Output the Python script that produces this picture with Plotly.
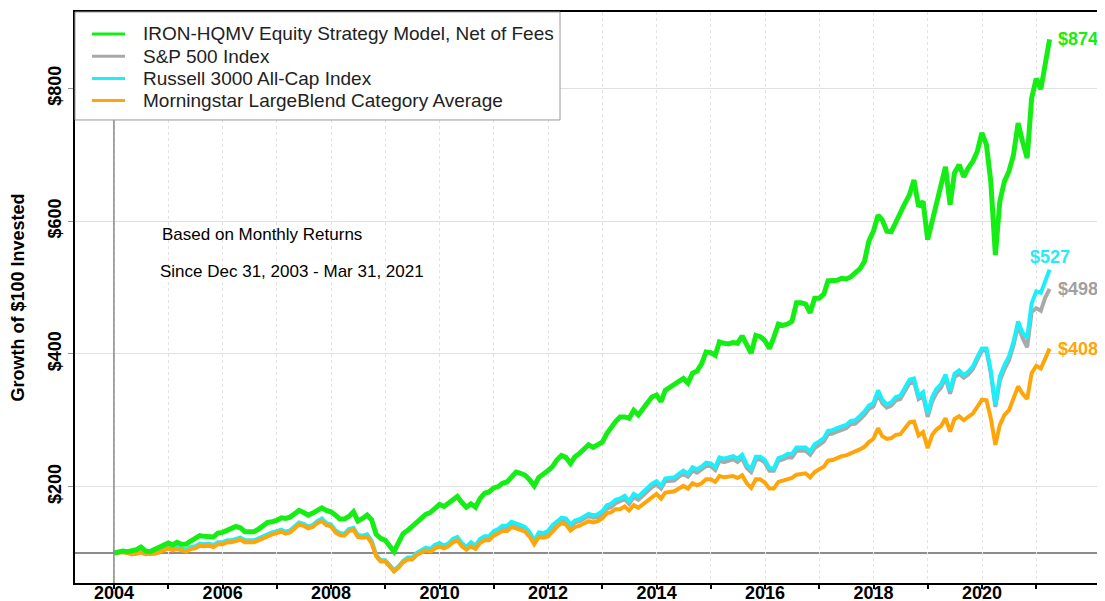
import pandas as pd
import plotly.graph_objects as go

# month-end values, Dec 2003 .. Mar 2021 (growth of $100)
iron = [100,
        102, 103, 102, 104, 105, 109, 103, 102, 105, 107, 112, 115,   # 2004
        112, 116, 113, 113, 118, 122, 126, 125, 125, 124, 130, 131,   # 2005
        134, 136, 140, 138, 132, 132, 132, 136, 141, 146, 147, 149,   # 2006
        153, 152, 154, 159, 164, 161, 157, 160, 164, 168, 164, 162,   # 2007
        157, 151, 151, 155, 162, 148, 152, 157, 150, 128, 122, 119,   # 2008
        110, 102, 116, 129, 134, 140, 147, 153, 158, 161, 168, 173,   # 2009
        170, 175, 181, 185, 176, 169, 174, 169, 182, 190, 192, 198,   # 2010
        200, 205, 207, 214, 222, 220, 217, 210, 201, 214, 218, 224,   # 2011
        230, 240, 247, 244, 235, 245, 250, 256, 263, 259, 263, 267,   # 2012
        280, 290, 298, 305, 305, 303, 315, 308, 318, 327, 335, 338,   # 2013
        328, 345, 350, 354, 358, 363, 356, 371, 374, 385, 403, 402,   # 2014
        398, 418, 416, 415, 417, 416, 427, 414, 401, 428, 426, 420,   # 2015
        408, 425, 445, 443, 445, 449, 477, 477, 475, 462, 484, 484,   # 2016
        490, 510, 511, 511, 514, 513, 516, 521, 528, 539, 570, 585,   # 2017
        609, 602, 585, 584, 600, 612, 627, 640, 662, 622, 630, 572,   # 2018
        600, 625, 652, 682, 625, 673, 685, 667, 680, 690, 705, 733,   # 2019
        715, 660, 549, 630, 660, 675, 700, 748, 720, 695, 785, 815,   # 2020
        799, 835, 874]                                                # 2021

sp500 = [100,
         101, 102, 100, 98, 99, 101, 98, 98, 99, 101, 105, 109,
         106, 108, 106, 104, 108, 109, 113, 112, 113, 111, 115, 115,
         118, 118, 120, 122, 118, 118, 118, 121, 124, 128, 130, 132,
         134, 131, 133, 139, 145, 143, 139, 141, 146, 150, 144, 141,
         133, 129, 128, 134, 136, 125, 124, 126, 116, 96, 88, 88,
         81, 73, 79, 87, 91, 91, 98, 102, 106, 104, 110, 113,
         109, 112, 119, 122, 112, 106, 113, 108, 118, 122, 123, 130,
         133, 138, 138, 144, 142, 139, 136, 129, 116, 128, 128, 130,
         139, 145, 150, 149, 140, 146, 148, 152, 156, 153, 154, 158,
         167, 169, 175, 178, 181, 174, 184, 180, 186, 194, 199, 203,
         197, 208, 208, 209, 215, 219, 215, 224, 221, 226, 231, 231,
         225, 239, 237, 239, 241, 237, 243, 228, 222, 240, 241, 236,
         224, 224, 239, 241, 244, 244, 254, 254, 254, 248, 258, 263,
         268, 279, 280, 283, 286, 288, 294, 295, 301, 308, 317, 321,
         340, 326, 319, 322, 330, 332, 344, 356, 358, 332, 337, 305,
         329, 341, 349, 364, 340, 365, 370, 364, 369, 377, 391, 405,
         405, 371, 320, 360, 377, 390, 413, 443, 424, 410, 463, 469,
         465, 484, 498]

russell = [100,
           101, 102, 101, 99, 100, 102, 99, 99, 100, 102, 106, 110,
           107, 109, 107, 105, 109, 110, 114, 113, 114, 112, 116, 116,
           119, 119, 121, 123, 119, 119, 119, 122, 125, 129, 131, 133,
           135, 132, 134, 140, 146, 144, 140, 142, 148, 152, 145, 143,
           134, 130, 129, 136, 138, 127, 126, 128, 118, 97, 89, 89,
           82, 74, 80, 88, 93, 93, 100, 104, 108, 106, 112, 115,
           111, 114, 121, 124, 115, 109, 116, 111, 121, 125, 125, 133,
           136, 141, 141, 147, 145, 142, 139, 131, 118, 131, 130, 133,
           142, 148, 153, 152, 143, 149, 151, 155, 159, 157, 158, 163,
           172, 174, 180, 182, 186, 178, 189, 185, 191, 199, 204, 208,
           201, 212, 213, 214, 219, 224, 219, 229, 226, 230, 236, 235,
           229, 244, 242, 244, 246, 242, 248, 233, 227, 245, 245, 240,
           228, 227, 243, 245, 249, 249, 259, 259, 259, 253, 264, 268,
           273, 284, 285, 288, 291, 293, 299, 300, 306, 313, 322, 326,
           345, 331, 324, 327, 335, 337, 349, 361, 363, 336, 342, 310,
           335, 347, 354, 369, 345, 370, 375, 368, 373, 381, 395, 408,
           408, 375, 323, 366, 383, 396, 418, 449, 432, 424, 476, 494,
           492, 510, 527]

morningstar = [100,
               101, 101, 100, 98, 99, 101, 98, 98, 99, 101, 104, 107,
               104, 106, 104, 102, 106, 107, 111, 110, 111, 109, 113, 113,
               116, 116, 118, 120, 116, 116, 116, 119, 122, 126, 128, 130,
               132, 129, 131, 137, 143, 141, 137, 139, 145, 148, 142, 140,
               131, 127, 126, 133, 135, 124, 123, 124, 115, 95, 87, 87,
               80, 72, 78, 86, 90, 90, 97, 100, 104, 102, 107, 110,
               107, 110, 116, 119, 110, 105, 110, 106, 115, 119, 119, 126,
               129, 133, 133, 139, 137, 134, 132, 124, 113, 124, 123, 125,
               133, 139, 145, 143, 134, 139, 141, 144, 148, 146, 148, 152,
               160, 161, 166, 166, 170, 164, 172, 168, 173, 180, 184, 189,
               182, 191, 192, 193, 197, 201, 197, 205, 202, 205, 211, 211,
               207, 216, 214, 215, 216, 213, 217, 205, 198, 211, 211, 206,
               197, 197, 207, 209, 211, 213, 218, 219, 220, 214, 222, 226,
               230, 239, 240, 243, 246, 247, 250, 252, 256, 260, 267, 272,
               288, 276, 272, 273, 278, 279, 289, 297, 298, 277, 282, 258,
               278, 286, 291, 303, 283, 302, 306, 300, 305, 310, 320, 331,
               330, 303, 263, 293, 308, 315, 333, 351, 340, 332, 371, 382,
               378, 392, 408]

dates = pd.date_range("2003-12-31", periods=len(iron), freq="ME")
years = list(range(2004, 2022))
year_labels = [str(y) if y % 2 == 0 else "" for y in years]

font_family = "Liberation Sans, Arial, sans-serif"

# name, values, colour, width, legend row
series = [
    ("S&P 500 Index", sp500, "#a9a9a9", 4, 1),
    ("Russell 3000 All-Cap Index", russell, "#1eeefa", 4, 2),
    ("Morningstar LargeBlend Category Average", morningstar, "#ffa50a", 4, 3),
    ("IRON-HQMV Equity Strategy Model, Net of Fees", iron, "#14ee14", 5, 0),
]

fig = go.Figure()
for name, vals, color, width, row in series:
    fig.add_trace(go.Scatter(x=dates, y=vals, mode="lines", name=name,
                             line=dict(color=color, width=width),
                             showlegend=False))

# reference lines at the start date and at $100
fig.add_hline(y=100, line=dict(color="#666666", width=1.5), layer="below")
fig.add_vline(x=dates[0], line=dict(color="#8a8a8a", width=1.5), layer="above")

# legend box drawn by hand (plot area is 1030 x 571 px)
fig.add_shape(type="rect", xref="paper", yref="paper", x0=0, x1=0.4709, y0=0.8109, y1=1,
              fillcolor="white", line=dict(color="#9a9a9a", width=1), layer="above")
for name, vals, color, width, row in series:
    ypix = 34 + row * 22.2
    yp = (583 - ypix) / 571
    fig.add_shape(type="line", xref="paper", yref="paper",
                  x0=(92 - 75) / 1030, x1=(125 - 75) / 1030, y0=yp, y1=yp,
                  line=dict(color=color, width=3), layer="above")
    fig.add_annotation(text=name, xref="paper", yref="paper",
                       x=(141 - 75) / 1030, y=yp, xanchor="left", yanchor="middle",
                       showarrow=False,
                       font=dict(family=font_family, size=19, color="#222222"))

# end labels
end_labels = [
    (iron, "$874", "#14ee14", "left", "middle", 6, 0),
    (russell, "$527", "#1eeefa", "center", "bottom", 0, 1),
    (sp500, "$498", "#a0a0a0", "left", "middle", 6, 0),
    (morningstar, "$408", "#ffa50a", "left", "middle", 6, 0),
]
for vals, txt, color, xa, ya, xs, ys in end_labels:
    fig.add_annotation(x=dates[-1], y=vals[-1], text="<b>%s</b>" % txt,
                       showarrow=False, xanchor=xa, yanchor=ya,
                       xshift=xs, yshift=ys,
                       font=dict(family=font_family, size=18, color=color))

fig.add_annotation(text="Based on Monthly Returns", xref="paper", yref="paper",
                   x=0.0825, y=0.611, xanchor="left", yanchor="middle",
                   showarrow=False, font=dict(family=font_family, size=17, color="black"))
fig.add_annotation(text="Since Dec 31, 2003 - Mar 31, 2021", xref="paper", yref="paper",
                   x=0.0806, y=0.545, xanchor="left", yanchor="middle",
                   showarrow=False, font=dict(family=font_family, size=17, color="black"))

# page body adds 8px offset; plot area targeted at x 75-1105, y 12-583 of the window
fig.update_layout(
    width=1097, height=593,
    margin=dict(l=67, r=0, t=4, b=18),
    plot_bgcolor="white", paper_bgcolor="white",
    font=dict(family=font_family, color="black"),
    showlegend=False,
    xaxis=dict(
        range=["2003-04-13", "2022-04-08"],
        tickvals=[pd.Timestamp(y, 1, 1) for y in years],
        ticktext=year_labels,
        tickfont=dict(family=font_family, size=18, color="black", weight="bold"),
        ticks="outside", ticklen=4, tickwidth=1.5, tickcolor="black",
        ticklabelstandoff=-12,
        showline=True, linecolor="black", linewidth=2, mirror=True,
        showgrid=True, gridcolor="#e2e2e2", griddash="dot", gridwidth=1,
        zeroline=False, automargin=False,
    ),
    yaxis=dict(
        range=[54.7, 915.3],
        tickvals=[200, 400, 600, 800],
        ticktext=["$200", "$400", "$600", "$800"],
        tickangle=-90,
        tickfont=dict(family=font_family, size=18, color="black", weight="bold"),
        ticks="outside", ticklen=5, tickwidth=1, tickcolor="#999999",
        showline=True, linecolor="black", linewidth=2,
        showgrid=True, gridcolor="#e0e0e0", gridwidth=1,
        zeroline=False, automargin=False,
        title=dict(text="Growth of $100 Invested", standoff=16,
                   font=dict(family=font_family, size=18, color="black", weight="bold")),
    ),
)

fig.write_html("out.html")
